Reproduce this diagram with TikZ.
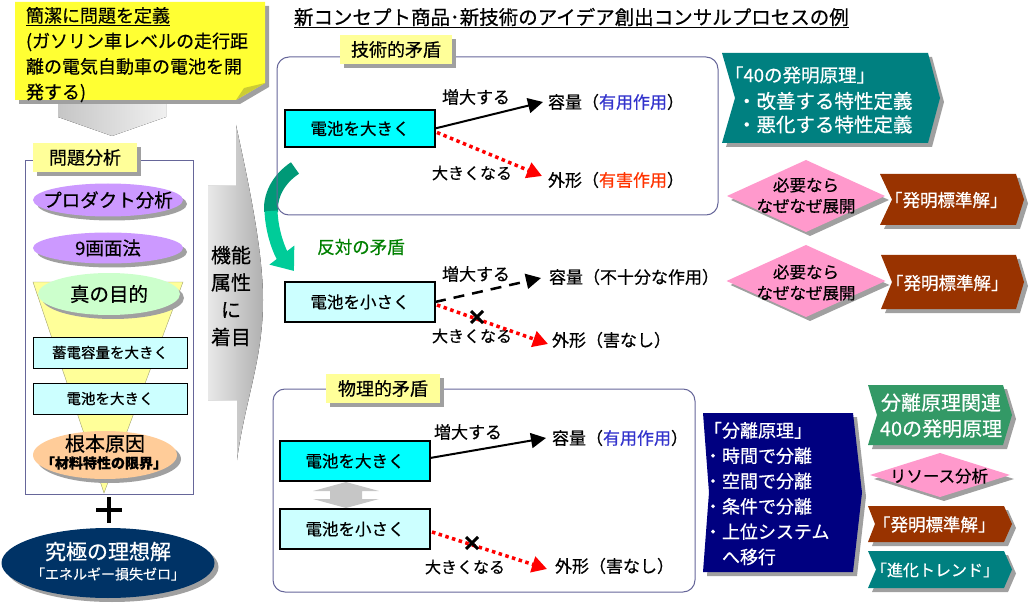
\documentclass[tikz,border=0pt]{standalone}
\usepackage{fontspec}
\setmainfont{Noto Sans CJK JP}[FakeBold=0.5]
\usetikzlibrary{shapes.geometric,shapes.misc,arrows.meta,shadows,calc}
\definecolor{noteY}{HTML}{FFFF33}
\definecolor{noteFold}{HTML}{CCCC33}
\definecolor{labY}{HTML}{FFFF99}
\definecolor{funnelY}{HTML}{FFFF99}
\definecolor{funnelB}{HTML}{A0A070}
\definecolor{purp}{HTML}{CC99FF}
\definecolor{lgreen}{HTML}{CCFFCC}
\definecolor{lcyan}{HTML}{CCFFFF}
\definecolor{cyanc}{HTML}{00FFFF}
\definecolor{peach}{HTML}{FFCC99}
\definecolor{navyE}{HTML}{003366}
\definecolor{tealc}{HTML}{008080}
\definecolor{brownc}{HTML}{993300}
\definecolor{pinkc}{HTML}{FF99CC}
\definecolor{navyc}{HTML}{000080}
\definecolor{greenc}{HTML}{339966}
\definecolor{panelc}{HTML}{666699}
\definecolor{bluec}{HTML}{3333CC}
\definecolor{redt}{HTML}{FF3300}
\definecolor{redc}{HTML}{FF0000}
\definecolor{greent}{HTML}{008000}
\definecolor{dkgreen}{HTML}{009977}
\definecolor{ltgreen}{HTML}{00CC99}
\definecolor{shadowc}{HTML}{A0A0A0}
\newcommand\myfs[2]{\fontsize{#1}{#2}\selectfont}
\newcommand\chev[4]{%
  \fill[#2, sh] (#1.north west) -- ([xshift=-#4pt]#1.north east) -- (#1.east) -- ([xshift=-#4pt]#1.south east) -- (#1.south west) -- ([xshift=#3pt]#1.west) -- cycle;}
\tikzset{
  every node/.style={inner sep=0pt, outer sep=0pt},
  sh/.style={drop shadow={shadow xshift=4pt,shadow yshift=-4pt,opacity=1,fill=shadowc}},
  tag/.style={fill=labY, sh, minimum height=29pt, font=\myfs{18}{20}},
  pill/.style={ellipse, sh},
  lbox/.style={draw=black, fill=lcyan, line width=1pt, minimum width=154pt, minimum height=31pt, font=\myfs{14.5}{17}},
  bbox/.style={draw=black, line width=2pt, minimum width=150pt, font=\myfs{16.5}{18}},
  txt/.style={font=\myfs{17}{20}},
  panel/.style={draw=panelc, line width=1pt, rounded corners=12pt},
  solidarr/.style={line width=2pt, -{Triangle[length=15pt,width=15pt]}},
  dasharr/.style={line width=2.5pt, dash pattern=on 11pt off 8pt, -{Triangle[length=15pt,width=15pt]}},
  dotarr/.style={draw=redc, line width=3.5pt, dash pattern=on 3.5pt off 3.5pt, -{Triangle[length=15pt,width=16pt,fill=redc]}},
  xmark/.style={cross out, draw=black, line width=3pt, minimum size=12pt},
  dia/.style={diamond, fill=pinkc, sh},
  wtxt/.style={text=white}
}
\begin{document}
\begin{tikzpicture}[x=1pt,y=-1pt]
\path[use as bounding box] (0,0) rectangle (1031,604);

% ---------- left column ----------
\fill[left color=gray!45, right color=gray!12] (58,101) -- (166,101) -- (166,117) -- (112,136) -- (58,117) -- cycle;
\fill[shadowc] (19,6) -- (269,6) -- (269,87) -- (240,104) -- (19,104) -- cycle;
\fill[noteY] (15,2) -- (265,2) -- (265,83) -- (236,100) -- (15,100) -- cycle;
\fill[noteFold] (236,100) -- (265,83) -- (244,88) -- cycle;
\node[anchor=north west, align=left, font=\myfs{18}{25.5}] (note) at (26,7)
  {\underline{簡潔に問題を定義}\\(ガソリン車レベルの走行距\\離の電気自動車の電池を開\\発する)};

\node[draw=panelc, line width=1pt, minimum width=168pt, minimum height=333pt] (panelL) at (109,327.5) {};
\filldraw[fill=funnelY, draw=funnelB] (33,282) -- (183,282) -- (104,493) -- cycle;
\node[tag, minimum width=104pt] (pa) at (85,157.5) {問題分析};
\node[pill, fill=purp, minimum width=150pt, minimum height=33pt] (prod) at (108,200) {};
\node[font=\myfs{18.5}{20}] (prodt) at (108,200) {プロダクト分析};
\node[pill, fill=purp, minimum width=150pt, minimum height=31pt] (nine) at (108,248) {};
\node[font=\myfs{18.5}{20}] (ninet) at (108,248) {9画面法};
\node[pill, fill=lgreen, minimum width=142pt, minimum height=42pt] (goal) at (109,294) {};
\node[font=\myfs{19.5}{22}] (goalt) at (109,294) {真の目的};
\node[lbox] (cap0) at (110,352.5) {蓄電容量を大きく};
\node[lbox] (bat0) at (110,398.5) {電池を大きく};
\node[pill, fill=peach, minimum width=144pt, minimum height=48pt] (root) at (105,455) {};
\node[font=\myfs{20}{22}] (roota) at (105,443.5) {根本原因};
\node[font=\myfs{14}{16}\bfseries] (rootb) at (104,463) {「材料特性の限界」};
\draw[line width=3.5pt] (96,510) -- (122,510) (109,497) -- (109,523);
\node[pill, fill=navyE, minimum width=213pt, minimum height=70pt] (ideal) at (108,563) {};
\node[text=white, font=\myfs{21}{23}] (ideala) at (108,551.5) {究極の理想解};
\node[text=white, font=\myfs{14}{16}] (idealb) at (108,574) {「エネルギー損失ゼロ」};

% big gray arrow
\fill[left color=gray!18, right color=gray!62] (208,186) -- (236,186) -- (236,125)
  .. controls (248,180) and (263,250) .. (263,300)
  .. controls (263,360) and (245,400) .. (237,460) -- (237,400) -- (208,400) -- cycle;
\node[align=center, font=\myfs{20}{27.3}] (focus) at (231,296) {機能\\属性\\に\\着目};

% ---------- title ----------
\node[anchor=west, font=\myfs{19.5}{22}] (title) at (294,18) {\underline{新コンセプト商品･新技術のアイデア創出コンサルプロセスの例}};

% ---------- technical contradiction ----------
\draw[line width=14pt, draw=dkgreen] (295,168) .. controls (277,180) and (270,197) .. (271,212);
\draw[line width=13pt, draw=ltgreen, -{Triangle[length=20pt,width=30pt]}] (271,211) .. controls (272,235) and (281,254) .. (294,271);
\node[panel, minimum width=441pt, minimum height=158pt] (tech) at (497.5,136) {};
\node[tag, minimum width=112pt] (techl) at (396,49.5) {技術的矛盾};
\node[bbox, fill=cyanc, minimum height=37pt] (bat1) at (360,128.5) {電池を大きく};
\node[txt, anchor=west] (cap1) at (548,102) {容量（\textcolor{bluec}{有用作用}）};
\node[txt, anchor=west] (ext1) at (548,180) {外形（\textcolor{redt}{有害作用}）};
\node[txt] (inc1) at (476,97) {増大する};
\node[font=\myfs{16}{18}] (big1) at (472,173) {大きくなる};
\draw[solidarr] (bat1.east) -- ([xshift=-5pt]cap1.west);
\draw[dotarr] ($(bat1.east)+(2,4)$) -- ([xshift=-6pt,yshift=4pt]ext1.west);

% ---------- opposite contradiction ----------
\node[font=\myfs{17.5}{20}, text=greent] (opp) at (361,247) {反対の矛盾};
\node[bbox, fill=lcyan, minimum height=40pt] (bat2) at (360,302) {電池を小さく};
\node[txt] (inc2) at (476,274) {増大する};
\node[txt, anchor=west] (cap2) at (549,277) {容量（不十分な作用）};
\node[font=\myfs{16}{18}] (big2) at (472,336) {大きくなる};
\node[txt, anchor=west] (ext2) at (552,340) {外形（害なし）};
\draw[dasharr] (bat2.east) -- ([xshift=-8pt,yshift=-1pt]cap2.west);
\draw[dotarr] ($(bat2.east)+(2,3)$) -- ([xshift=-4pt,yshift=-4pt]ext2.west);
\node[xmark] (x1) at (477,317) {};

% ---------- physical contradiction ----------
\node[panel, minimum width=422pt, minimum height=203pt] (phys) at (484,490.5) {};
\node[tag, minimum width=114pt] (physl) at (383,388.5) {物理的矛盾};
\node[bbox, fill=cyanc, minimum height=40pt] (bat3) at (355,461) {電池を大きく};
\node[bbox, fill=lcyan, minimum height=40pt] (bat4) at (355,529) {電池を小さく};
\fill[gray!45] (346,482) -- (379,491) -- (362,491) -- (362,499) -- (379,499) -- (346,508) -- (313,499) -- (330,499) -- (330,491) -- (313,491) -- cycle;
\node[txt] (inc3) at (468,432) {増大する};
\node[txt, anchor=west] (cap3) at (552,438) {容量（\textcolor{bluec}{有用作用}）};
\node[font=\myfs{16}{18}] (big3) at (465,567) {大きくなる};
\node[txt, anchor=west] (ext3) at (555,566) {外形（害なし）};
\draw[solidarr] ($(bat3.east)+(0,-3)$) -- ([xshift=-6pt]cap3.west);
\draw[dotarr] ($(bat4.east)+(2,3)$) -- ([xshift=-8pt,yshift=-3pt]ext3.west);
\node[xmark] (x2) at (472,543) {};

% ---------- right column ----------
\node[minimum width=218pt, minimum height=90pt] (p40) at (831,98) {};
\chev{p40}{tealc}{13}{12}
\node[wtxt, anchor=west, font=\myfs{18.5}{20}] (p40a) at (725,75) {「40の発明原理」};
\node[wtxt, anchor=west, font=\myfs{19.5}{20}] (p40b) at (737,101) {・改善する特性定義};
\node[wtxt, anchor=west, font=\myfs{19.5}{20}] (p40c) at (737,124.5) {・悪化する特性定義};

\node[dia, minimum width=158pt, minimum height=72pt] (w1) at (806,196) {};
\node[align=center, font=\myfs{16.5}{21}] (w1t) at (806,195.5) {必要なら\\なぜなぜ展開};
\node[minimum width=144pt, minimum height=51pt] (s1) at (952,199.5) {};
\chev{s1}{brownc}{12}{8}
\node[wtxt, anchor=west, font=\myfs{17.5}{20}] (s1t) at (885,200) {「発明標準解」};

\node[dia, minimum width=159pt, minimum height=72pt] (w2) at (806,281) {};
\node[align=center, font=\myfs{16.5}{21}] (w2t) at (806,282.5) {必要なら\\なぜなぜ展開};
\node[minimum width=143pt, minimum height=54pt] (s2) at (952.5,282) {};
\chev{s2}{brownc}{11}{8}
\node[wtxt, anchor=west, font=\myfs{17.5}{20}] (s2t) at (886,283) {「発明標準解」};

\node[minimum width=159pt, minimum height=159pt] (sep) at (782.5,492.5) {};
\chev{sep}{navyc}{6}{9}
\node[wtxt, anchor=north west, align=left, font=\myfs{18}{25.3}] (sept) at (704,422)
  {「分離原理」\\・時間で分離\\・空間で分離\\・条件で分離\\・上位システム\\\hspace*{1em}へ移行};

\node[minimum width=144pt, minimum height=60pt] (g40) at (940,415) {};
\chev{g40}{greenc}{9}{9}
\node[wtxt, align=center, font=\myfs{20}{26}] (g40t) at (941,415.5) {分離原理関連\\40の発明原理};

\node[dia, minimum width=140pt, minimum height=44pt] (w3) at (940,475) {};
\node[font=\myfs{16.5}{18}] (w3t) at (939,476) {リソース分析};
\node[minimum width=144pt, minimum height=36pt] (s3) at (940,524) {};
\chev{s3}{brownc}{7}{8}
\node[wtxt, anchor=west, font=\myfs{17.5}{20}] (s3t) at (873,524.5) {「発明標準解」};
\node[minimum width=144pt, minimum height=37pt] (s4) at (940,569.5) {};
\chev{s4}{tealc}{8}{8}
\node[wtxt, anchor=west, font=\myfs{16}{18}] (s4t) at (871,570) {「進化トレンド」};
\end{tikzpicture}
\end{document}
